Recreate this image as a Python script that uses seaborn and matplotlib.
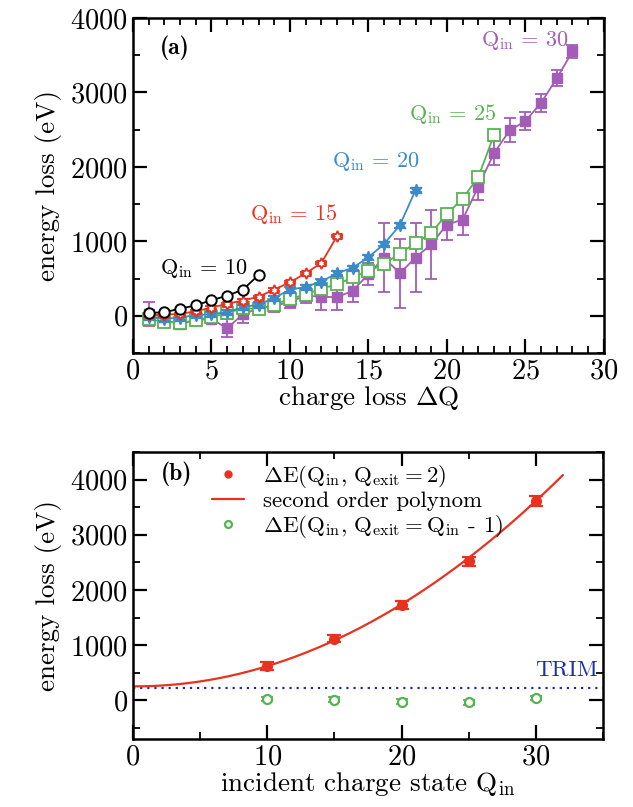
import matplotlib
matplotlib.use("Agg")
import matplotlib.pyplot as plt
from matplotlib.ticker import MultipleLocator
import numpy as np
import pandas as pd
import seaborn as sns

# ---- panel (a): energy loss vs charge loss, one series per incident charge
q10_dq = list(range(1, 9))
q10_e = [35, 49, 93, 141, 208, 270, 349, 548]

q15_dq = list(range(1, 14))
q15_e = [5, 15, 25, 60, 110, 160, 205, 255, 352, 449, 571, 708, 1068]
q15_err = [15] * 13

q20_dq = list(range(1, 19))
q20_e = [-20, -40, -25, 10, 20, 50, 115, 150, 240, 350, 388, 460, 571, 645, 785, 965, 1215, 1686]
q20_err = [30] * 18

q25_dq = list(range(1, 24))
q25_e = [-49, -80, -95, -62, -13, 31, 106, 88, 150, 228, 285, 365, 420, 518, 600, 697, 836, 978,
         1111, 1367, 1575, 1863, 2429]
q25_err = [40] * 23

q30_dq = list(range(1, 29))
q30_e = [20, -60, -110, -60, -40, -170, 20, 100, 130, 190, 270, 255, 250, 335, 560, 780, 570, 780,
         960, 1225, 1290, 1735, 2185, 2490, 2615, 2860, 3190, 3550]
q30_err = [160, 60, 70, 60, 60, 120, 120, 80, 80, 80, 100, 180, 170, 150, 150, 460, 460, 460,
           460, 210, 210, 185, 165, 160, 120, 120, 105, 90]

# ---- panel (b): energy loss vs incident charge state
qin = [10, 15, 20, 25, 30]
de_exit2 = [620, 1120, 1723, 2518, 3614]
de_exit2_err = [70, 70, 70, 80, 90]
de_exit_qm1 = [24, 12, -24, -36, 42]
de_exit_qm1_err = [40, 40, 40, 40, 40]
poly_coef = [3.77, -0.97, 253]  # second order polynom (c2, c1, c0)
poly_range = (0, 32)
trim_level = 230

COLORS = {
    10: 'black',
    15: '#e8321f',
    20: '#3b8bc8',
    25: '#55b44f',
    30: '#a45db6',
    'trim': '#1f2fa8',
}

sns.set_theme(style="ticks")
plt.rcParams.update({
    'font.family': 'serif',
    'font.serif': ['cmr10'],
    'mathtext.fontset': 'cm',
    'axes.formatter.use_mathtext': True,
    'axes.unicode_minus': False,
    'axes.edgecolor': 'black',
    'axes.labelcolor': 'black',
    'text.color': 'black',
    'xtick.color': 'black',
    'ytick.color': 'black',
    'axes.linewidth': 1.8,
    'xtick.direction': 'in',
    'ytick.direction': 'in',
    'xtick.top': True,
    'ytick.right': True,
    'xtick.major.size': 10,
    'ytick.major.size': 10,
    'xtick.minor.size': 5,
    'ytick.minor.size': 5,
    'xtick.major.width': 1.6,
    'ytick.major.width': 1.6,
    'xtick.minor.width': 1.3,
    'ytick.minor.width': 1.3,
    'xtick.labelsize': 20.5,
    'ytick.labelsize': 20.5,
})

fig = plt.figure(figsize=(6.33, 8.07), dpi=100)
ax_a = fig.add_axes([0.210, 0.5626, 0.744, 0.4151])
ax_b = fig.add_axes([0.210, 0.0843, 0.743, 0.3556])

series = [
    (10, q10_dq, q10_e, None, dict(marker='o', mfc='white', ms=7.5, mew=1.4)),
    (15, q15_dq, q15_e, q15_err, dict(marker=(6, 1, 0), mfc='white', ms=8, mew=1.3)),
    (20, q20_dq, q20_e, q20_err, dict(marker=(6, 1, 0), ms=9, mew=1.0)),
    (25, q25_dq, q25_e, q25_err, dict(marker='s', mfc='white', ms=8, mew=1.3)),
    (30, q30_dq, q30_e, q30_err, dict(marker='s', ms=7, mew=1.0)),
]
for q, dq, e, err, style in reversed(series):
    c = COLORS[q]
    df = pd.DataFrame({'dq': dq, 'e': e})
    sns.lineplot(data=df, x='dq', y='e', ax=ax_a, color=c, lw=1.3, legend=False)
    ax_a.errorbar(dq, e, yerr=err, fmt='none', ecolor=c, elinewidth=1.3, capsize=4.5, capthick=1.3)
    ax_a.plot(dq, e, ls='none', color=c, mec=c, **style)

ax_a.set_xlim(0, 30)
ax_a.set_ylim(-500, 4000)
ax_a.xaxis.set_major_locator(MultipleLocator(5))
ax_a.xaxis.set_minor_locator(MultipleLocator(1))
ax_a.yaxis.set_major_locator(MultipleLocator(1000))
ax_a.yaxis.set_minor_locator(MultipleLocator(500))
ax_a.set_xlabel(r'charge loss $\Delta$Q', fontsize=19.5, labelpad=0)
ax_a.set_ylabel('energy loss (eV)', fontsize=19.5, labelpad=6)

ax_a.text(1.7, 3600, '(a)', fontsize=17, family='cmb10', va='center')
label_pos = {10: (1.7, 640), 15: (7.45, 1370), 20: (12.7, 2075), 25: (17.6, 2710), 30: (22.2, 3695)}
for q, (x, y) in label_pos.items():
    ax_a.text(x, y, r'$\mathrm{Q_{in}}\,=\,%d$' % q, color=COLORS[q], fontsize=16, va='center')

# ---- panel (b)
xfit = np.linspace(*poly_range, 200)
fit_df = pd.DataFrame({'q': xfit, 'e': np.polyval(poly_coef, xfit)})
ax_b.axhline(trim_level, color=COLORS['trim'], ls=(0, (1, 2.2)), lw=1.6)
sns.lineplot(data=fit_df, x='q', y='e', ax=ax_b, color=COLORS[15], lw=1.6, legend=False)
ax_b.errorbar(qin, de_exit2, yerr=de_exit2_err, fmt='none', ecolor=COLORS[15],
              elinewidth=1.6, capsize=5, capthick=1.6)
ax_b.plot(qin, de_exit2, 'o', color=COLORS[15], ms=7)
ax_b.errorbar(qin, de_exit_qm1, yerr=de_exit_qm1_err, fmt='none', ecolor=COLORS[25],
              elinewidth=1.3, capsize=4, capthick=1.3)
ax_b.plot(qin, de_exit_qm1, 'o', color=COLORS[25], mfc='white', ms=6.5, mew=1.6)

h1, = ax_b.plot([], [], 'o', color=COLORS[15], ms=5)
h2, = ax_b.plot([], [], '-', color=COLORS[15], lw=1.6)
h3, = ax_b.plot([], [], 'o', color=COLORS[25], mfc='white', ms=5, mew=1.6)
ax_b.legend([h1, h2, h3],
            [r'$\Delta\mathrm{E(Q_{in},\,Q_{exit}} = \mathrm{2)}$',
             'second order polynom',
             r'$\Delta\mathrm{E(Q_{in},\,Q_{exit}} = \mathrm{Q_{in}}$ - 1)'],
            loc='upper left', bbox_to_anchor=(0.125, 1.035), frameon=False,
            fontsize=16.5, handlelength=1.4, handletextpad=0.8, labelspacing=0.08)

ax_b.text(2.1, 4110, '(b)', fontsize=17, family='cmb10', va='center')
ax_b.text(29.9, 540, 'TRIM', color=COLORS['trim'], fontsize=16.5, va='center')

ax_b.set_xlim(0, 35)
ax_b.set_ylim(-700, 4500)
ax_b.xaxis.set_major_locator(MultipleLocator(10))
ax_b.xaxis.set_minor_locator(MultipleLocator(5))
ax_b.yaxis.set_major_locator(MultipleLocator(1000))
ax_b.yaxis.set_minor_locator(MultipleLocator(500))
ax_b.set_xlabel(r'incident charge state $\mathrm{Q_{in}}$', fontsize=19.5, labelpad=0)
ax_b.set_ylabel('energy loss (eV)', fontsize=19.5, labelpad=6)

fig.savefig('out.png', dpi=100, facecolor='white')
